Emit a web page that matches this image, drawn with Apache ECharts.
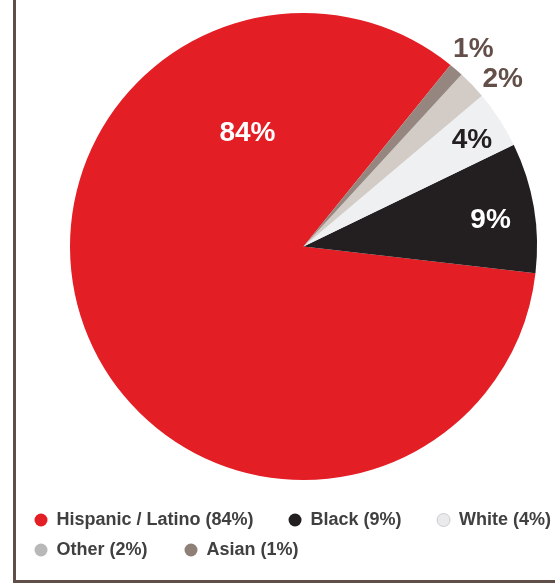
<!DOCTYPE html>
<html>
<head>
<meta charset="utf-8">
<script src="https://cdn.jsdelivr.net/npm/echarts@6/dist/echarts.min.js"></script>
<style>
  html, body { margin: 0; padding: 0; background: #ffffff; }
  #chart { width: 555px; height: 584px; }
</style>
</head>
<body>
<div id="chart"></div>
<script>
// Population share by race / ethnicity
const categories = ['Hispanic / Latino', 'Black', 'White', 'Other', 'Asian'];
const shares = [84, 9, 4, 2, 1];

const sliceColors = ['#e31e25', '#231f20', '#eff0f2', '#d2cbc6', '#958780'];
const legendIconColors = ['#e31e25', '#231f20', '#e9eaec', '#b8b8b8', '#8e7f77'];
const labelColors = ['#ffffff', '#ffffff', '#231f20', '#634f48', '#634f48'];
// where each percentage label sits: [angle in degrees from 3 o'clock, counter-clockwise;
// distance from the centre as a fraction of the radius]
const labelAnchors = [[116, 0.548], [8.5, 0.81], [32.7, 0.857], [40.4, 1.12], [49.5, 1.12]];

const CX = 303.5, CY = 246.5, R = 233.5;

const chart = echarts.init(document.getElementById('chart'), null, { renderer: 'canvas' });

const pieData = categories.map((name, i) => ({
  name: name,
  value: shares[i],
  itemStyle: { color: sliceColors[i] },
  label: { color: labelColors[i] }
}));

function legendItems(from, to) {
  return categories.slice(from, to).map((name, k) => {
    const i = from + k;
    const style = { color: legendIconColors[i], borderWidth: 0 };
    if (name === 'White') { style.borderColor = '#cdcdcd'; style.borderWidth = 1; }
    return { name: name, icon: 'circle', itemStyle: style };
  });
}

const legendBase = {
  orient: 'horizontal',
  left: 34.5,
  width: 560,
  itemWidth: 21,
  itemHeight: 13,
  itemGap: 37,
  padding: 0,
  selectedMode: false,
  textStyle: {
    fontFamily: '"Liberation Sans", Arial, sans-serif',
    fontWeight: 'bold',
    fontSize: 18,
    color: '#404040'
  },
  formatter: name => `${name} (${shares[categories.indexOf(name)]}%)`
};

chart.setOption({
  animation: false,
  backgroundColor: '#ffffff',
  legend: [
    Object.assign({}, legendBase, { top: 511, itemGap: 35, data: legendItems(0, 3) }),
    Object.assign({}, legendBase, { top: 541, data: legendItems(3, 5) })
  ],
  graphic: [{
    type: 'rect',
    silent: true,
    shape: { x: 14.5, y: -10, width: 600, height: 591.5 },
    style: { fill: 'none', stroke: '#604f48', lineWidth: 3 }
  }],
  series: [{
    type: 'pie',
    center: [CX, CY],
    radius: R,
    startAngle: 51,
    clockwise: false,
    silent: true,
    itemStyle: { borderWidth: 0 },
    label: {
      show: true,
      position: 'inside',
      formatter: '{c}%',
      fontFamily: '"Liberation Sans", Arial, sans-serif',
      fontWeight: 'bold',
      fontSize: 28
    },
    labelLine: { show: false },
    labelLayout: function (params) {
      const a = labelAnchors[params.dataIndex];
      const rad = a[0] * Math.PI / 180;
      return {
        x: CX + R * a[1] * Math.cos(rad),
        y: CY - R * a[1] * Math.sin(rad) + 2,
        align: 'center',
        verticalAlign: 'middle'
      };
    },
    data: pieData
  }]
});
</script>
</body>
</html>
